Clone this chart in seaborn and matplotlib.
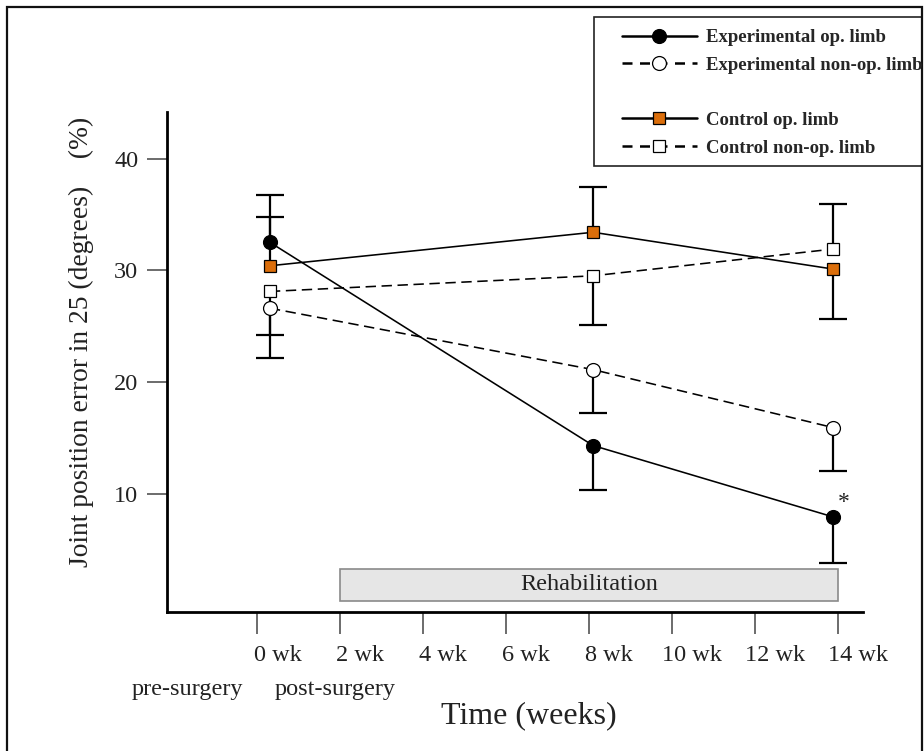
import matplotlib
matplotlib.use("Agg")
import matplotlib.pyplot as plt
import matplotlib.transforms as mtransforms
from matplotlib.lines import Line2D
from matplotlib.patches import Rectangle
import pandas as pd
import seaborn as sns

# data
weeks = [0.3, 8.1, 13.9]
exp_op = [32.5, 14.3, 7.9]
exp_non = [26.6, 21.1, 15.9]
ctrl_op = [30.4, 33.4, 30.1]
ctrl_non = [28.1, 29.5, 31.9]

# one-sided error bars (lower, upper)
exp_op_lo, exp_op_hi = [0, 4.0, 4.1], [4.2, 0, 0]
exp_non_lo, exp_non_hi = [4.5, 3.9, 3.9], [0, 0, 0]
ctrl_op_lo, ctrl_op_hi = [0, 0, 4.5], [4.35, 4.05, 0]
ctrl_non_lo, ctrl_non_hi = [3.9, 4.4, 0], [0, 0, 4.0]

tick_pos = [0, 2, 4, 6, 8, 10, 12, 14]
tick_labels = ["0 wk", "2 wk", "4 wk", "6 wk", "8 wk", "10 wk", "12 wk", "14 wk"]
y_ticks = [10, 20, 30, 40]
rehab_start, rehab_end = 2, 14

orange = "#DB6E0B"
series = [
    ("Experimental op. limb", exp_op, exp_op_lo, exp_op_hi, "o", "black", "-"),
    ("Experimental non-op. limb", exp_non, exp_non_lo, exp_non_hi, "o", "white", (0, (6.5, 3.5))),
    ("Control op. limb", ctrl_op, ctrl_op_lo, ctrl_op_hi, "s", orange, "-"),
    ("Control non-op. limb", ctrl_non, ctrl_non_lo, ctrl_non_hi, "s", "white", (0, (6.5, 3.5))),
]

sns.set_style("ticks")
plt.rcParams['font.family'] = ['Liberation Serif', 'DejaVu Serif']

fig = plt.figure(figsize=(9.24, 7.51), dpi=100)
ax = fig.add_axes([0.1804, 0.1855, 0.7539, 0.6658])

for name, vals, lo, hi, mk, fc, ls in series:
    df = pd.DataFrame({"week": weeks, "value": vals})
    sns.lineplot(data=df, x="week", y="value", ax=ax, color="black", linewidth=1.15,
                 linestyle=ls, marker=mk, markersize=10 if mk == "o" else 8.5,
                 markerfacecolor=fc, markeredgecolor="black", markeredgewidth=0.9,
                 zorder=4)
    # upward bars
    up = [i for i in range(len(weeks)) if hi[i] > 0]
    if up:
        _, caps, _ = ax.errorbar([weeks[i] for i in up], [vals[i] for i in up],
                                 yerr=[[0] * len(up), [hi[i] for i in up]], fmt="none",
                                 ecolor="black", elinewidth=1.6, capsize=10, capthick=1.6, zorder=3)
        caps[0].set_visible(False)
    # downward bars
    down = [i for i in range(len(weeks)) if lo[i] > 0]
    if down:
        _, caps, _ = ax.errorbar([weeks[i] for i in down], [vals[i] for i in down],
                                 yerr=[[lo[i] for i in down], [0] * len(down)], fmt="none",
                                 ecolor="black", elinewidth=1.6, capsize=10, capthick=1.6, zorder=3)
        caps[1].set_visible(False)

# rehabilitation bar
ax.add_patch(Rectangle((rehab_start, 0.42), rehab_end - rehab_start, 2.82,
                       facecolor="#E6E6E6", edgecolor="#8A8A8A", linewidth=1.2, zorder=1))
ax.text((rehab_start + rehab_end) / 2, 1.83, "Rehabilitation", ha="center", va="center",
        fontsize=17.5, color="#222222", zorder=2)
ax.text(14.15, 9.2, "*", ha="center", va="center", fontsize=17, color="#222222")

ax.set_xlim(-2.19, 14.62)
ax.set_ylim(-0.58, 44.2)
ax.set_xticks(tick_pos)
ax.set_xticklabels(tick_labels, fontsize=17.5, color="#222222")
ax.set_yticks(y_ticks)
ax.set_yticklabels([str(v) for v in y_ticks], fontsize=17.5, color="#222222")
ax.tick_params(axis="x", length=16, width=1.1, color="#444444", pad=8)
ax.tick_params(axis="y", length=14.4, width=1.1, color="#444444", pad=6)
shift = mtransforms.ScaledTranslation(0.20, 0, fig.dpi_scale_trans)
for lab in ax.get_xticklabels():
    lab.set_transform(lab.get_transform() + shift)
ax.set_xlabel("")
ax.set_ylabel("")
sns.despine(ax=ax)
for s in ["left", "bottom"]:
    ax.spines[s].set_linewidth(2.0)
    ax.spines[s].set_color("black")

fig.text(81 / 924, 1 - 342 / 751, "Joint position error in 25 (degrees)    (%)", rotation=90,
         ha="center", va="center", fontsize=19.8, color="#222222")
fig.text(529 / 924, 1 - 716 / 751, "Time (weeks)", ha="center", va="center", fontsize=23, color="#222222")
fig.text(187 / 924, 1 - 689 / 751, "pre-surgery", ha="center", va="center", fontsize=17.5, color="#222222")
fig.text(335 / 924, 1 - 689 / 751, "post-surgery", ha="center", va="center", fontsize=17.5, color="#222222")

# legend
handles = []
labels = []
for i, (name, vals, lo, hi, mk, fc, ls) in enumerate(series):
    handles.append(Line2D([], [], color="black", linewidth=1.8,
                          linestyle="-" if ls == "-" else (0, (4, 3)),
                          marker=mk, markersize=10 if mk == "o" else 8.5,
                          markerfacecolor=fc, markeredgecolor="black", markeredgewidth=0.9))
    labels.append(name)
    if i == 1:
        handles.append(Line2D([], [], color="none"))
        labels.append(" ")
fig.legend(handles, labels, loc="upper left", bbox_to_anchor=(621.7 / 924, 1 - 29 / 751),
           frameon=False, borderpad=0, borderaxespad=0, handlelength=4.0, handletextpad=0.5,
           labelspacing=0.56, prop={"family": "Liberation Serif", "weight": "bold", "size": 13.5})
fig.add_artist(Rectangle((594 / 924, 1 - 166 / 751), (922 - 594) / 924, (166 - 17) / 751,
                         transform=fig.transFigure, fill=False, edgecolor="#222222", linewidth=1.2))

# outer frame
fig.add_artist(Rectangle((7 / 924, -0.02), (922 - 7) / 924, 1.02 - 7 / 751,
                         transform=fig.transFigure, fill=False, edgecolor="#111111", linewidth=1.6))

fig.savefig("out.png", dpi=100)
